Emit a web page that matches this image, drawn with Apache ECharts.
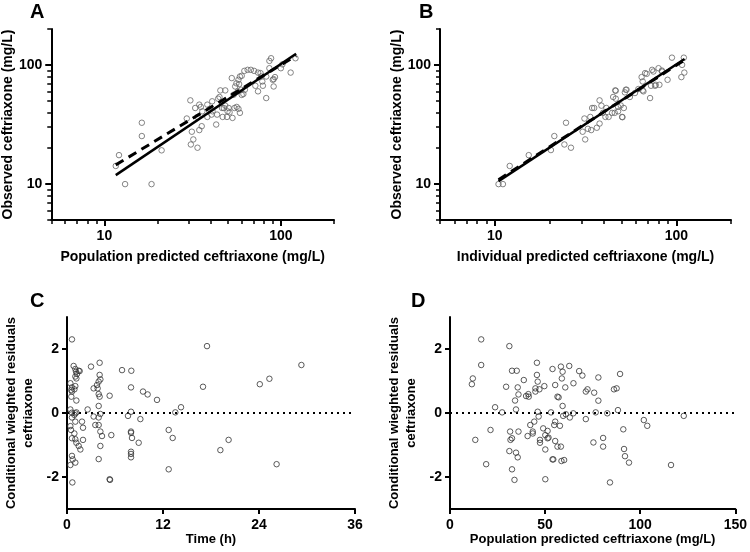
<!DOCTYPE html>
<html><head><meta charset="utf-8">
<script src="https://cdn.jsdelivr.net/npm/echarts@6/dist/echarts.min.js"></script>
<style>html,body{margin:0;padding:0;background:#fff}#c{width:750px;height:552px}</style>
</head><body><div id="c"></div><script>
// ---- tick values ----
const logMajorTicks = [10, 100];
const logMinorTicks = [5, 6, 7, 8, 9, 20, 30, 40, 50, 60, 70, 80, 90, 200];
const residTicks = [-2, 0, 2];
const timeTicks = [0, 12, 24, 36];
const predTicks = [0, 50, 100, 150];

// ---- Panel A: population predicted vs observed ----
const aPred = [12.1,11.6,13.1,18.5,16.3,16.3,21.1,30.7,29.3,30.9,33.7,31.9,31.3,32.7,34.5,35.2,34.5,35.6,33.7,35.9,38.3,40.8,39.5,40.5,43,44.1,45.4,48.4,44.9,46.4,43.5,46.8,49.5,50.6,47.5,51.2,53.2,52.7,55.1,57,54,57.5,58.6,60,59.6,61.3,54.6,57.5,58.6,62.1,64.8,67.6,70.5,74.2,76.7,77.4,71.7,79.1,74.2,82.6,82.6,86.1,88,86.1,90,91,92.6,100,102,113.6,121,78.5,48.4,49.9,56.2,58,62.5,60,56,91,38.3,41];
const aObs  = [17.5,14.2,10,10,32.7,25.3,19.2,50.4,35.5,21.5,20.2,23.7,27.5,43.5,46.4,44.4,28.4,30.6,36.6,40.8,46.4,49.5,42.8,38.3,31.6,52.1,61.1,61.1,53.8,43.5,38.3,36.6,36.6,43.5,43.5,40,35.9,77.5,65.9,60,56.2,75,79.9,81,61.9,57,43.5,42.8,39.6,89.1,90.9,90.9,89.1,86.2,85.3,79.9,66.8,66.8,60,52.7,79.9,93.8,113.7,108,75,65.9,79,93.8,101,86.2,113.7,72.6,45.5,40.8,44.4,69,61.9,56,70,76,36.6,40.8];
const aIdentityX = [11.6, 122];
const aIdentityY = [11.9, 124];
const aFitX = [11.6, 122];
const aFitY = [14.5, 119.5];

// ---- Panel B: individual predicted vs observed ----
const bPred = [10.5,11.1,12.1,15.4,20.4,21.3,24.2,26.3,24.7,30.5,31.5,31.2,32.6,34,33.6,34.4,35.3,36.5,37.8,37.8,38.7,39.5,40.7,42.4,41.2,44.3,45.8,44.9,46.4,46.1,47.8,47.8,49.4,50.5,51.4,53.2,52.1,55.5,59.2,61.8,65.3,65.3,64.4,68.7,71.7,72.6,74.8,76.4,80.7,79.8,83.3,89.5,94.6,110,107.6,110.7,106.6,83.3,73.6,67.3,77,65.9,52.7,46.4,50.3];
const bObs  = [10,10,14.2,17.5,19.3,25.3,21.5,20.2,32.7,27.5,23.7,35.5,29.1,28.4,36.6,43.5,43.5,29.7,32.2,50.4,45.5,39.6,36.6,36.6,43.5,39.6,39.6,53.8,52.1,61.1,44.4,40.8,45.7,36.4,43.5,61.9,58.8,53.8,58.1,62.7,72.6,61.1,79,84.1,52.7,66.8,88,66.8,68.1,93.8,88,75,115,115,100,86.2,79,89.6,90.9,85.3,68.1,60,61.9,60.7,36.6];
const bIdentityX = [10.5, 111];
const bIdentityY = [10.6, 112];
const bFitX = [10.5, 111];
const bFitY = [10.9, 110];

// ---- Panel C: CWRES vs time ----
const cTime = [0.62,0.83,1.04,1.125,1.46,1.58,1.25,1.04,1.17,0.42,0.62,0.54,0.62,1.04,0.92,0.54,1.17,0.42,0.62,1.04,1.17,0.92,0.62,1.04,1.875,0.42,0.5,2.0,0.92,0.62,1.04,1.17,1.46,1.67,2.0,0.62,0.71,1.04,0.42,0.67,2.58,3.0,3.33,3.83,4.08,4.08,4.17,3.96,3.75,3.96,4.08,3.96,4.17,3.96,3.33,3.54,3.96,4.17,4.375,4.17,3.96,5.33,5.33,5.38,5.54,6.88,8.04,8.0,8.0,7.625,9.17,8.0,8.0,8.125,8.96,8.0,8.0,8.0,9.5,10.08,11.25,13.54,14.25,12.71,13.21,12.71,17.0,17.5,19.17,20.2,24.1,25.3,26.2,29.3];
const cRes  = [2.30,1.47,1.375,1.29,1.32,1.31,1.22,1.14,1.08,0.93,0.80,0.72,0.67,0.84,0.74,0.51,0.39,0.11,0.01,-0.01,0.02,-0.06,-0.14,-0.27,-0.27,-0.41,-0.53,-0.46,-0.64,-0.79,-0.82,-0.93,-1.03,-1.14,-0.84,-1.34,-1.45,-1.55,-1.625,-2.17,0.11,1.45,0.77,0.77,1.57,1.19,1.05,0.98,0.875,0.59,0.51,0.22,-0.03,-0.14,-0.11,-0.375,-0.375,-0.58,-0.72,-1.03,-1.44,0.54,-2.07,-2.09,-0.69,1.34,1.32,0.80,0.04,-0.09,-0.19,-0.58,-0.62,-0.78,-0.93,-1.21,-1.28,-1.385,0.67,0.58,0.41,0.02,0.18,-0.53,-0.78,-1.76,0.82,2.09,-1.16,-0.84,0.90,1.07,-1.60,1.50];

// ---- Panel D: CWRES vs population predicted ----
const dPred = [16.4,16.4,12.0,11.5,13.3,19.0,21.3,23.7,27.4,31.2,29.5,31.8,32.6,31.2,31.6,32.6,33.9,34.7,35.6,32.6,35.1,34.2,34.7,36.0,35.6,36.0,38.8,40.0,41.2,41.4,40.8,42.2,43.5,44.3,43.5,44.9,44.9,45.7,45.7,46.1,47.0,46.1,46.6,47.3,47.3,49.0,49.6,50.1,50.1,51.3,53.9,53.9,55.3,56.5,55.3,54.8,53.1,50.1,56.5,58.3,59.2,62.7,67.9,69.6,78.0,89.4,58.8,60.6,64.9,57.1,72.3,71.4,75.8,78.0,86.2,87.6,59.2,59.5,60.9,63.0,64.8,76.6,82.7,88.3,71.4,57.8,51.3,51.8,55.3,58.3,54.3,58.6,60.0,75.4,80.5,80.5,91.1,91.5,92.0,94.1,84.1,101.9,103.7,116.2,122.9];
const dRes  = [2.30,1.5,1.08,0.90,-0.84,-1.60,-0.53,0.18,0.02,2.09,0.82,-0.84,-0.79,-1.19,-0.58,-1.76,-2.09,-1.24,-1.385,1.32,1.32,0.39,0.11,-0.58,0.80,0.58,1.03,0.53,0.59,0.51,-0.72,-0.375,-0.58,-0.27,-0.64,0.77,0.67,1.57,1.19,0.98,0.74,0.04,-0.11,-0.84,-0.93,-0.48,0.84,-0.69,-1.14,-0.79,1.375,-1.45,0.875,0.51,-0.27,-0.375,0.02,-2.07,-1.05,1.45,1.29,1.47,1.31,1.17,1.11,1.22,1.08,0.80,0.93,0.49,0.74,0.67,0.635,0.385,0.74,0.77,0.22,-0.09,-0.04,-0.14,-0.01,0.02,-0.01,0.09,-0.19,-0.40,-0.56,-0.77,-0.875,-1.05,-1.45,-1.5,-1.47,-0.92,-0.78,-1.05,-0.51,-1.125,-1.35,-1.55,-2.17,-0.22,-0.40,-1.625,-0.09];
const zeroLineC = [0, 36];
const zeroLineD = [0, 150];

const FONT = '"Liberation Sans", Arial, Helvetica, sans-serif';
const zip = (xs, ys) => xs.map((x, i) => [x, ys[i]]);

const nameStyleTop = {fontFamily: FONT, fontWeight: 'bold', fontSize: 14, color: '#000'};
const nameStyle = {fontFamily: FONT, fontWeight: 'bold', fontSize: 13, color: '#000'};
const labelStyle = {fontFamily: FONT, fontWeight: 'bold', fontSize: 14, color: '#000'};
const lineBlack = {color: '#000', width: 2};
const letterStyle = {fontFamily: FONT, fontWeight: 'bold', fontSize: 20, color: '#000'};

function mainAxis(opts) {
  return Object.assign({
    nameLocation: 'middle',
    nameTextStyle: nameStyle,
    axisLine: {show: true, onZero: false, lineStyle: lineBlack},
    axisTick: {show: true, length: 5, lineStyle: lineBlack},
    axisLabel: Object.assign({margin: 8}, labelStyle),
    splitLine: {show: false},
    minorTick: {show: false}
  }, opts);
}
function logMain(grid, name, gap, pos) {
  return mainAxis({type: 'log', logBase: 10, gridIndex: grid, position: pos, min: 5, max: 200, name: name, nameGap: gap,
    nameTextStyle: nameStyleTop,
    axisTick: {show: true, length: 6, customValues: logMajorTicks, lineStyle: lineBlack},
    axisLabel: Object.assign({margin: 9, customValues: logMajorTicks}, labelStyle)});
}
function logMinor(grid, pos) {
  return {type: 'log', logBase: 10, gridIndex: grid, position: pos, min: 5, max: 200,
    axisLine: {show: false, onZero: false}, axisLabel: {show: false}, splitLine: {show: false},
    axisTick: {show: true, length: 4, customValues: logMinorTicks, lineStyle: {color: '#000', width: 1.5}}};
}

const circleA = {color: 'rgba(0,0,0,0)', borderColor: '#666', borderWidth: 1};
const circleC = {color: 'rgba(0,0,0,0)', borderColor: '#333', borderWidth: 1};

const chart = echarts.init(document.getElementById('c'), null, {renderer: 'canvas'});
chart.setOption({
  animation: false,
  backgroundColor: '#fff',
  title: [
    {text: 'A', left: 30, top: 2, padding: 0, textStyle: letterStyle},
    {text: 'B', left: 419, top: 2, padding: 0, textStyle: letterStyle},
    {text: 'C', left: 30, top: 291, padding: 0, textStyle: letterStyle},
    {text: 'D', left: 411, top: 291, padding: 0, textStyle: letterStyle}
  ],
  grid: [
    {left: 44, top: 29, width: 290, height: 191},
    {left: 440, top: 29, width: 291, height: 191},
    {left: 67, top: 317, width: 288, height: 192},
    {left: 450, top: 317, width: 287, height: 192}
  ],
  xAxis: [
    logMain(0, 'Population predicted ceftriaxone (mg/L)', 30, 'bottom'),
    logMain(1, 'Individual predicted ceftriaxone (mg/L)', 30, 'bottom'),
    mainAxis({type: 'value', gridIndex: 2, position: 'bottom', min: 0, max: 36, interval: 12, name: 'Time (h)', nameGap: 22,
      axisLabel: Object.assign({margin: 9, customValues: timeTicks}, labelStyle),
      axisTick: {show: true, length: 5, customValues: timeTicks, lineStyle: lineBlack}}),
    mainAxis({type: 'value', gridIndex: 3, position: 'bottom', min: 0, max: 150, interval: 50, name: 'Population predicted ceftriaxone (mg/L)', nameGap: 22,
      axisLabel: Object.assign({margin: 9, customValues: predTicks}, labelStyle),
      axisTick: {show: true, length: 5, customValues: predTicks, lineStyle: lineBlack}}),
    logMinor(0, 'bottom'),
    logMinor(1, 'bottom')
  ],
  yAxis: [
    logMain(0, 'Observed ceftriaxone (mg/L)', 30, 'left'),
    logMain(1, 'Observed ceftriaxone (mg/L)', 30, 'left'),
    mainAxis({type: 'value', gridIndex: 2, position: 'left', min: -3, max: 3, name: 'Conditional wieghted residuals\nceftriaxone', nameGap: 30,
      nameTextStyle: Object.assign({lineHeight: 17}, nameStyle),
      axisLabel: Object.assign({margin: 8, customValues: residTicks}, labelStyle),
      axisTick: {show: true, length: 5, customValues: residTicks, lineStyle: lineBlack}}),
    mainAxis({type: 'value', gridIndex: 3, position: 'left', min: -3, max: 3, name: 'Conditional wieghted residuals\nceftriaxone', nameGap: 30,
      nameTextStyle: Object.assign({lineHeight: 17}, nameStyle),
      axisLabel: Object.assign({margin: 8, customValues: residTicks}, labelStyle),
      axisTick: {show: true, length: 5, customValues: residTicks, lineStyle: lineBlack}}),
    logMinor(0, 'left'),
    logMinor(1, 'left')
  ],
  series: [
    {type: 'scatter', xAxisIndex: 0, yAxisIndex: 0, data: zip(aPred, aObs), symbol: 'circle', symbolSize: 5.5, itemStyle: circleA, z: 2},
    {type: 'line', xAxisIndex: 0, yAxisIndex: 0, data: zip(aIdentityX, aIdentityY), symbol: 'none', lineStyle: {color: '#000', width: 2.5}, z: 3},
    {type: 'line', xAxisIndex: 0, yAxisIndex: 0, data: zip(aFitX, aFitY), symbol: 'none', lineStyle: {color: '#000', width: 3, type: [9, 6]}, z: 3},
    {type: 'scatter', xAxisIndex: 1, yAxisIndex: 1, data: zip(bPred, bObs), symbol: 'circle', symbolSize: 5.5, itemStyle: circleA, z: 2},
    {type: 'line', xAxisIndex: 1, yAxisIndex: 1, data: zip(bIdentityX, bIdentityY), symbol: 'none', lineStyle: {color: '#000', width: 2.5}, z: 3},
    {type: 'line', xAxisIndex: 1, yAxisIndex: 1, data: zip(bFitX, bFitY), symbol: 'none', lineStyle: {color: '#000', width: 3, type: [9, 6]}, z: 3},
    {type: 'line', xAxisIndex: 2, yAxisIndex: 2, data: zeroLineC.map(x => [x, 0]), symbol: 'none', lineStyle: {color: '#000', width: 2, type: [2, 4]}, z: 1},
    {type: 'scatter', xAxisIndex: 2, yAxisIndex: 2, data: zip(cTime, cRes), symbol: 'circle', symbolSize: 5.5, itemStyle: circleC, z: 2},
    {type: 'line', xAxisIndex: 3, yAxisIndex: 3, data: zeroLineD.map(x => [x, 0]), symbol: 'none', lineStyle: {color: '#000', width: 2, type: [2, 4]}, z: 1},
    {type: 'scatter', xAxisIndex: 3, yAxisIndex: 3, data: zip(dPred, dRes), symbol: 'circle', symbolSize: 5.5, itemStyle: circleC, z: 2}
  ]
});
</script></body></html>
